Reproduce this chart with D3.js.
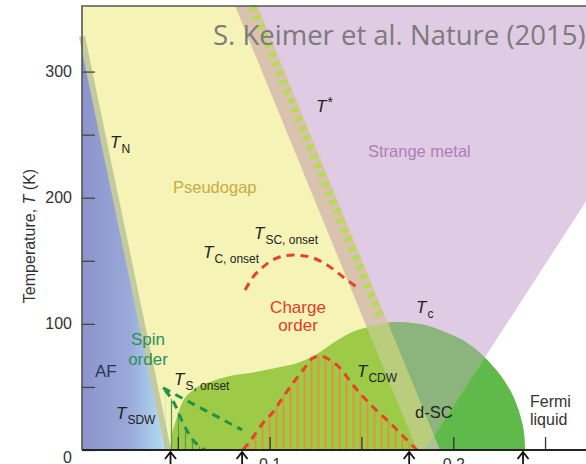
<!DOCTYPE html>
<html>
<head>
<meta charset="utf-8">
<script src="https://cdn.jsdelivr.net/npm/d3@7"></script>
<style>
  html, body { margin: 0; padding: 0; background: #fff; }
  svg { display: block; font-family: "Liberation Sans", Arial, sans-serif; }
</style>
</head>
<body>
<svg id="chart" width="586" height="464"></svg>
<script>
// hole doping p vs temperature T (K)
const pRange = [-0.0022, 0.2723];
const tRange = [0, 352];
const tempTicks = [0, 50, 100, 150, 200, 250, 300];
const tempLabels = [0, 100, 200, 300];
const dopingTicks = [0.05, 0.1, 0.15, 0.2, 0.25];
const dopingLabels = [0.1, 0.2];
const arrowDoping = [0.046, 0.085, 0.176, 0.238];

const afBoundary = [[-0.0022, 328], [0.0447, 0]];
const tStarLeft = [[0.0812, 352], [0.1803, 0]];
const tStarRight = [[0.0937, 352], [0.1928, 0]];
const tStarDash = [[0.0904, 352], [0.1607, 104]];
const fermiBoundary = [[0.2723, 197], [0.1846, 0]];

const scDome = [
  [0.0458, 0], [0.0468, 12], [0.0485, 21.4], [0.0523, 37.3], [0.0583, 47.6],
  [0.0675, 53.9], [0.0784, 58.7], [0.0893, 61], [0.1057, 65.8], [0.1166, 69.8],
  [0.1275, 77.7], [0.1345, 84.8], [0.1438, 92.8], [0.1563, 98.3], [0.1683, 101.5],
  [0.1819, 99.9], [0.1955, 93.5], [0.2092, 83.2], [0.22, 69], [0.2282, 53.9],
  [0.2337, 38.8], [0.2369, 24.6], [0.2386, 11.9], [0.2391, 0]
];
const cdwDome = [
  [0.0855, 0], [0.091, 10.3], [0.0964, 21.4], [0.1019, 30.1], [0.1073, 42],
  [0.1127, 53.1], [0.1182, 63.4], [0.1236, 72.9], [0.1275, 74.5], [0.1329, 71.4],
  [0.1383, 65], [0.1454, 51.5], [0.1563, 34.1], [0.1656, 21.4], [0.1748, 7.9], [0.1803, 0]
];
const scOnset = [
  [0.0866, 126.8], [0.091, 137.2], [0.0964, 145.1], [0.104, 152.2], [0.1127, 154.6],
  [0.122, 153], [0.1313, 146.7], [0.14, 137.2], [0.1481, 128.4]
];
const spinOnset = [[0.0419, 49.2], [0.085, 15.9]];
const sdwLine = [[0.043, 47.6], [0.0485, 35.7], [0.0528, 21.4], [0.0583, 7.9], [0.0648, 0]];

const svg = d3.select("#chart");
const x = d3.scaleLinear().domain(pRange).range([82, 586]);
const y = d3.scaleLinear().domain(tRange).range([450, 6]);

const line = d3.line().x(d => x(d[0])).y(d => y(d[1]));
const smooth = d3.line().x(d => x(d[0])).y(d => y(d[1])).curve(d3.curveMonotoneX);
const poly = pts => line(pts) + "Z";

const defs = svg.append("defs");

// AF blue gradient
const grad = defs.append("linearGradient").attr("id", "afGrad")
  .attr("gradientUnits", "userSpaceOnUse")
  .attr("x1", x(pRange[0])).attr("x2", x(afBoundary[1][0])).attr("y1", 0).attr("y2", 0);
grad.append("stop").attr("offset", 0).attr("stop-color", "#8c94cb");
grad.append("stop").attr("offset", 0.55).attr("stop-color", "#9aa9d9");
grad.append("stop").attr("offset", 1).attr("stop-color", "#b3e3f5");

// hatch patterns
const cdwHatch = defs.append("pattern").attr("id", "cdwHatch")
  .attr("patternUnits", "userSpaceOnUse").attr("width", 7).attr("height", 10);
cdwHatch.append("line").attr("x1", 3.5).attr("x2", 3.5).attr("y1", 0).attr("y2", 10)
  .attr("stroke", "#ee8a3a").attr("stroke-width", 1.6);
const spinHatch = defs.append("pattern").attr("id", "spinHatch")
  .attr("patternUnits", "userSpaceOnUse").attr("width", 7).attr("height", 10);
spinHatch.append("line").attr("x1", 3.5).attr("x2", 3.5).attr("y1", 0).attr("y2", 10)
  .attr("stroke", "#5a9c46").attr("stroke-width", 1.3);

defs.append("clipPath").attr("id", "domeClip")
  .append("path").attr("d", smooth(scDome) + "Z");

const tTop = tRange[1], pMax = pRange[1], pMin = pRange[0];

// pseudogap background
svg.append("path").attr("d", poly([[pMin, 0], [pMin, tTop], [pMax, tTop], [pMax, 0]]))
  .attr("fill", "#f6f3b6");

// strange metal
const purplePts = [tStarRight[0], [pMax, tTop], fermiBoundary[0], fermiBoundary[1], tStarRight[1]];
svg.append("path").attr("d", poly(purplePts)).attr("fill", "#e0cbe4");
// Fermi liquid (white)
const whitePts = [fermiBoundary[0], [pMax, 0], fermiBoundary[1]];
svg.append("path").attr("d", poly(whitePts)).attr("fill", "#ffffff");

// T* band
const bandPts = [tStarLeft[0], tStarRight[0], tStarRight[1], tStarLeft[1]];
svg.append("path").attr("d", poly(bandPts)).attr("fill", "#d9c2ae");

// AF region
svg.append("path").attr("d", poly([[pMin, afBoundary[0][1]], afBoundary[1], [pMin, 0]]))
  .attr("fill", "url(#afGrad)");
svg.append("path").attr("d", line(afBoundary)).attr("fill", "none")
  .attr("stroke", "#c4caa0").attr("stroke-width", 6);

// superconducting dome
svg.append("path").attr("d", smooth(scDome) + "Z").attr("fill", "#9dcb48");
const domeLayer = svg.append("g").attr("clip-path", "url(#domeClip)");
domeLayer.append("path").attr("d", poly(whitePts)).attr("fill", "#5fb94b");
domeLayer.append("path").attr("d", poly(purplePts)).attr("fill", "#8bb57d");
domeLayer.append("path").attr("d", poly(bandPts)).attr("fill", "#dcd0bc").attr("opacity", 0.45);

// T* green dashes
svg.append("path").attr("d", line(tStarDash)).attr("fill", "none")
  .attr("stroke", "#b6da5c").attr("stroke-width", 8).attr("stroke-dasharray", "5 5");

// charge order hatch + spin hatch
const area = d3.area().x(d => x(d[0])).y0(y(0)).y1(d => y(d[1])).curve(d3.curveMonotoneX);
svg.append("path").attr("d", area(cdwDome)).attr("fill", "url(#cdwHatch)");
svg.append("path").attr("d", area(sdwLine)).attr("fill", "url(#spinHatch)");

const dashed = (pts, color) => svg.append("path").attr("d", smooth(pts)).attr("fill", "none")
  .attr("stroke", color).attr("stroke-width", 3).attr("stroke-dasharray", "8 6");
dashed(cdwDome, "#e5432c");
dashed(scOnset, "#e5432c");
dashed(spinOnset, "#1f9447");
dashed(sdwLine, "#1f9447");

// axes
const yAxis = svg.append("g").attr("transform", `translate(${x(pMin)},0)`)
  .call(d3.axisLeft(y).tickValues(tempTicks).tickSize(-13).tickPadding(10)
    .tickFormat(d => tempLabels.includes(d) ? d : ""));
yAxis.select(".domain").remove();
yAxis.selectAll(".tick line").attr("stroke", "#444").attr("stroke-width", 1.3);
yAxis.selectAll("text").attr("font-size", 16).attr("fill", "#333")
  .attr("font-family", "Liberation Sans, Arial, sans-serif");
yAxis.selectAll(".tick").filter(d => d === 0).select("text").attr("dy", "0.8em");

const xAxis = svg.append("g").attr("transform", `translate(0,${y(0)})`)
  .call(d3.axisBottom(x).tickValues(dopingTicks).tickSize(-13).tickPadding(9)
    .tickFormat(d => dopingLabels.includes(d) ? d3.format(".1f")(d) : ""));
xAxis.select(".domain").remove();
xAxis.selectAll(".tick line").attr("stroke", "#333").attr("stroke-width", 1.3);
xAxis.selectAll("text").attr("font-size", 16).attr("fill", "#333")
  .attr("font-family", "Liberation Sans, Arial, sans-serif");

// frame
svg.append("path").attr("d", line([[pMin, 0], [pMin, tTop], [pMax, tTop]]))
  .attr("fill", "none").attr("stroke", "#555").attr("stroke-width", 1.6);
svg.append("path").attr("d", line([[pMin, 0], [pMax, 0]]))
  .attr("fill", "none").attr("stroke", "#222").attr("stroke-width", 1.8);

// arrows under the axis
arrowDoping.forEach(p => {
  const ax = x(p), ay = y(0) + 2;
  svg.append("path")
    .attr("d", `M${ax - 5.5},${ay + 7}L${ax},${ay}L${ax + 5.5},${ay + 7}M${ax},${ay}V${ay + 20}`)
    .attr("fill", "none").attr("stroke", "#111").attr("stroke-width", 1.8);
});

// axis title
const yTitle = svg.append("text").attr("transform", "translate(35,236) rotate(-90)")
  .attr("text-anchor", "middle").attr("font-size", 16).attr("fill", "#333")
  .style("white-space", "pre");
yTitle.append("tspan").text("Temperature, ");
yTitle.append("tspan").attr("font-style", "italic").text("T");
yTitle.append("tspan").text(" (K)");

// labels
function tLabel(px, py, sub) {
  const t = svg.append("text").attr("x", px).attr("y", py).attr("fill", "#222");
  t.append("tspan").attr("font-style", "italic").attr("font-size", 17).text("T");
  t.append("tspan").attr("dx", 1).attr("dy", 5).attr("font-size", 12).text(sub);
}
function plain(px, py, txt, color, size, anchor) {
  svg.append("text").attr("x", px).attr("y", py).attr("fill", color)
    .attr("font-size", size).attr("text-anchor", anchor || "start").text(txt);
}

tLabel(110, 148, "N");
tLabel(254, 239, "SC, onset");
tLabel(203, 258, "C, onset");
tLabel(416, 313, "c");
tLabel(174, 385, "S, onset");
tLabel(116, 419, "SDW");
tLabel(357, 377, "CDW");

const ts = svg.append("text").attr("x", 316).attr("y", 112).attr("fill", "#222");
ts.append("tspan").attr("font-style", "italic").attr("font-size", 17).text("T");
ts.append("tspan").attr("dx", 1).attr("dy", -5).attr("font-size", 14).text("*");

plain(173, 193, "Pseudogap", "#c4ad45", 16.5);
plain(368, 157, "Strange metal", "#b07cb8", 16.5);
plain(298, 313, "Charge", "#e03c28", 17, "middle");
plain(298, 331, "order", "#e03c28", 17, "middle");
plain(148, 345, "Spin", "#2b8f5e", 17, "middle");
plain(148, 365, "order", "#2b8f5e", 17, "middle");
plain(95, 377, "AF", "#2c3350", 17);
plain(415, 418, "d-SC", "#222", 16.5);
plain(530, 407, "Fermi", "#333", 16);
plain(530, 425, "liquid", "#333", 16);

svg.append("text").attr("x", 213).attr("y", 45).attr("fill", "#7b7b7b")
  .attr("font-family", "Open Sans, sans-serif").attr("font-size", 27.5)
  .text("S. Keimer et al. Nature (2015)");
</script>
</body>
</html>
